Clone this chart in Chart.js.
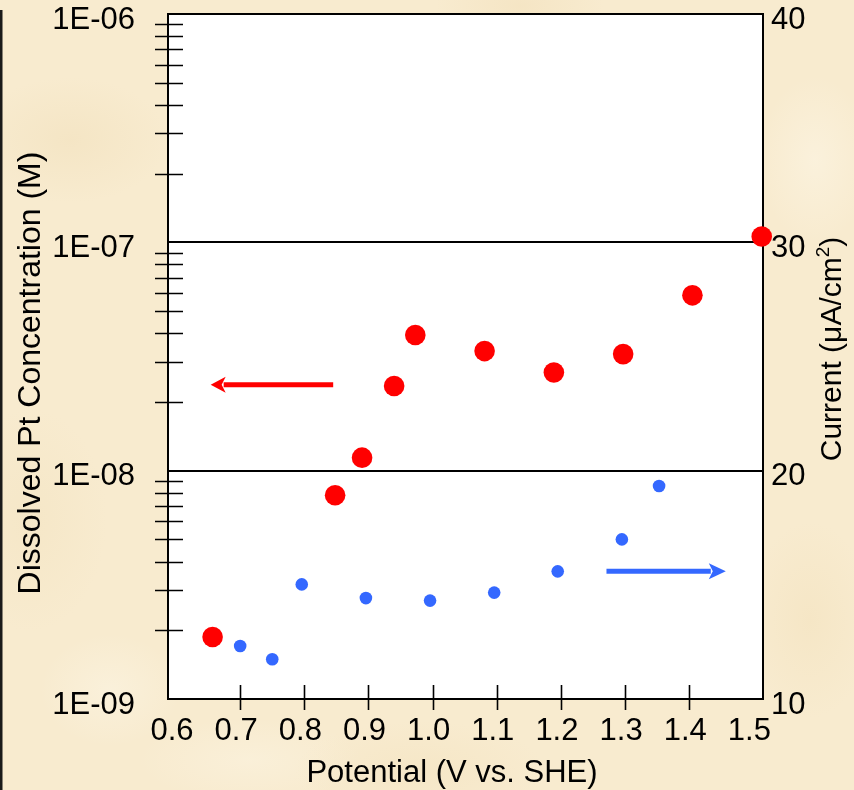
<!DOCTYPE html>
<html>
<head>
<meta charset="utf-8">
<script src="https://cdn.jsdelivr.net/npm/chart.js@4.4.1/dist/chart.umd.min.js"></script>
<style>
  html, body { margin: 0; padding: 0; }
  body {
    width: 854px;
    height: 790px;
    overflow: hidden;
    background-color: #f8ebcf;
    background-image:
      radial-gradient(ellipse 140px 90px at 70px 140px, rgba(240,222,184,0.45), rgba(240,222,184,0) 70%),
      radial-gradient(ellipse 110px 160px at 30px 520px, rgba(242,226,190,0.45), rgba(242,226,190,0) 70%),
      radial-gradient(ellipse 180px 70px at 420px 770px, rgba(242,224,186,0.4), rgba(242,224,186,0) 70%),
      radial-gradient(ellipse 90px 140px at 810px 620px, rgba(242,224,186,0.45), rgba(242,224,186,0) 70%),
      radial-gradient(ellipse 120px 60px at 520px 6px, rgba(240,220,180,0.4), rgba(240,220,180,0) 70%),
      radial-gradient(ellipse 80px 120px at 815px 160px, rgba(252,245,228,0.6), rgba(252,245,228,0) 70%),
      radial-gradient(ellipse 100px 80px at 110px 690px, rgba(252,246,230,0.5), rgba(252,246,230,0) 70%),
      radial-gradient(ellipse 160px 60px at 250px 760px, rgba(252,245,228,0.45), rgba(252,245,228,0) 70%);
  }
  #chart { display: block; }
</style>
</head>
<body>
<canvas id="chart" width="854" height="790"></canvas>
<script>
// dissolved Pt (left, log axis) vs potential
const potentialPt = [0.657, 0.848, 0.890, 0.940, 0.973, 1.081, 1.189, 1.297, 1.405, 1.513];
const dissolvedPt = [1.87e-9, 7.8e-9, 1.14e-8, 2.35e-8, 3.93e-8, 3.34e-8, 2.69e-8, 3.24e-8, 5.86e-8, 1.06e-7];

// current (right axis) vs potential
const potentialI = [0.700, 0.750, 0.796, 0.896, 0.996, 1.096, 1.195, 1.295, 1.353];
const currentI = [12.32, 11.74, 15.02, 14.42, 14.31, 14.66, 15.59, 16.99, 19.33];

const xTicks = [0.6, 0.7, 0.8, 0.9, 1.0, 1.1, 1.2, 1.3, 1.4, 1.5];
const xLabels = ['0.6', '0.7', '0.8', '0.9', '1.0', '1.1', '1.2', '1.3', '1.4', '1.5'];
const xMarks = [0.7, 0.8, 0.9, 1.0, 1.1, 1.2, 1.3, 1.4];

const concTicks = [1e-9, 1e-8, 1e-7, 1e-6];
const concLabels = ['1E-09', '1E-08', '1E-07', '1E-06'];

const currentTicks = [10, 20, 30, 40];
const currentLabels = ['10', '20', '30', '40'];
const currentGrid = [20, 30];

// arrows: [x from, x to, y]
const concArrow = [0.845, 0.654, 2.38e-8];
const currentArrow = [1.271, 1.457, 15.59];

const FONT = "'Liberation Sans', Arial, Helvetica, sans-serif";
const tickFont = { family: FONT, size: 31 };

// keep the plot box fixed: no extra room for half-labels at the ends
function noPad(s) {
  s.paddingTop = 0;
  s.paddingBottom = 0;
  s.paddingLeft = 0;
  s.paddingRight = 0;
}

function drawArrow(ctx, xs, ys, a, color, headLen, headHalf) {
  const x0 = xs.getPixelForValue(a[0]);
  const x1 = xs.getPixelForValue(a[1]);
  const y = ys.getPixelForValue(a[2]);
  const dir = Math.sign(x1 - x0);
  ctx.save();
  ctx.strokeStyle = color;
  ctx.fillStyle = color;
  ctx.lineWidth = 5;
  ctx.beginPath();
  ctx.moveTo(x0, y);
  ctx.lineTo(x1 - dir * (headLen - 2), y);
  ctx.stroke();
  ctx.beginPath();
  ctx.moveTo(x1, y);
  ctx.lineTo(x1 - dir * headLen, y - headHalf);
  ctx.lineTo(x1 - dir * (headLen - 4), y);
  ctx.lineTo(x1 - dir * headLen, y + headHalf);
  ctx.closePath();
  ctx.fill();
  ctx.restore();
}

const frame = {
  id: 'frame',
  beforeDraw(chart) {
    const { ctx, chartArea: a } = chart;
    ctx.save();
    ctx.fillStyle = '#fff';
    ctx.fillRect(a.left, a.top, a.right - a.left, a.bottom - a.top);
    // slide edge on the far left
    ctx.fillStyle = '#1a1a1a';
    ctx.fillRect(0, 10, 2.5, 780);
    ctx.restore();
  },
  beforeDatasetsDraw(chart) {
    const { ctx, chartArea: a, scales } = chart;
    ctx.save();
    ctx.strokeStyle = '#000';
    ctx.lineWidth = 2;
    ctx.strokeRect(a.left, a.top, a.right - a.left, a.bottom - a.top);

    ctx.beginPath();
    xMarks.forEach(v => {
      const px = Math.round(scales.x.getPixelForValue(v)) + 0.5;
      ctx.moveTo(px, a.bottom - 14);
      ctx.lineTo(px, a.bottom + 11);
    });
    // minor decade marks on the log axis
    for (let e = -9; e < -6; e++) {
      for (let k = 2; k <= 9; k++) {
        const py = Math.round(scales.y.getPixelForValue(k * Math.pow(10, e))) + 0.5;
        ctx.moveTo(a.left - 13, py);
        ctx.lineTo(a.left + 15, py);
      }
    }
    ctx.lineWidth = 1.6;
    ctx.stroke();
    ctx.restore();
  },
  afterDraw(chart) {
    const { ctx, scales } = chart;
    drawArrow(ctx, scales.x, scales.y, concArrow, '#ff0000', 15, 8);
    drawArrow(ctx, scales.x, scales.y2, currentArrow, '#3468ff', 17, 8);

    ctx.save();
    ctx.fillStyle = '#000';
    ctx.textBaseline = 'alphabetic';

    ctx.font = '31px ' + FONT;
    ctx.textAlign = 'center';
    ctx.fillText('Potential (V vs. SHE)', 452, 782);

    ctx.save();
    ctx.translate(40, 373);
    ctx.rotate(-Math.PI / 2);
    ctx.font = '32px ' + FONT;
    ctx.fillText('Dissolved Pt Concentration (M)', 0, 0);
    ctx.restore();

    // right title with a superscript 2
    ctx.save();
    ctx.translate(841, 349);
    ctx.rotate(-Math.PI / 2);
    const big = '30px ' + FONT, small = '19px ' + FONT;
    const p1 = 'Current (\u03bcA/cm', p2 = '2', p3 = ')';
    ctx.font = big;
    const w1 = ctx.measureText(p1).width, w3 = ctx.measureText(p3).width;
    ctx.font = small;
    const w2 = ctx.measureText(p2).width;
    let x = -(w1 + w2 + w3) / 2;
    ctx.textAlign = 'left';
    ctx.font = big;
    ctx.fillText(p1, x, 0);
    x += w1;
    ctx.font = small;
    ctx.fillText(p2, x, -12);
    x += w2;
    ctx.font = big;
    ctx.fillText(p3, x, 0);
    ctx.restore();

    ctx.restore();
  }
};

new Chart(document.getElementById('chart'), {
  type: 'scatter',
  data: {
    datasets: [
      {
        label: 'Dissolved Pt',
        data: potentialPt.map((x, i) => ({ x, y: dissolvedPt[i] })),
        yAxisID: 'y',
        backgroundColor: '#ff0000',
        pointRadius: 10.3,
        pointBorderWidth: 0,
        clip: false
      },
      {
        label: 'Current',
        data: potentialI.map((x, i) => ({ x, y: currentI[i] })),
        yAxisID: 'y2',
        backgroundColor: '#3468ff',
        pointRadius: 6.3,
        pointBorderWidth: 0,
        clip: false
      }
    ]
  },
  options: {
    responsive: false,
    animation: false,
    devicePixelRatio: 1,
    events: [],
    layout: { autoPadding: false, padding: { top: 14, left: 0, right: 0, bottom: 0 } },
    plugins: { legend: { display: false }, tooltip: { enabled: false } },
    scales: {
      x: {
        type: 'linear',
        position: 'bottom',
        min: 0.5875,
        max: 1.515,
        afterBuildTicks: s => { s.ticks = xTicks.map(v => ({ value: v })); },
        afterFit: s => { s.height = 91; noPad(s); },
        grid: { display: false, drawTicks: false },
        border: { display: false },
        ticks: {
          callback: (v, i) => xLabels[i],
          font: tickFont,
          color: '#000',
          padding: 14,
          labelOffset: -4,
          maxRotation: 0,
          autoSkip: false
        }
      },
      y: {
        type: 'logarithmic',
        position: 'left',
        min: 1e-9,
        max: 1e-6,
        afterBuildTicks: s => { s.ticks = concTicks.map(v => ({ value: v })); },
        afterFit: s => { s.width = 168; noPad(s); },
        grid: { display: false, drawTicks: false },
        border: { display: false },
        ticks: {
          callback: (v, i) => concLabels[i],
          font: tickFont,
          color: '#000',
          padding: 33,
          labelOffset: 6,
          autoSkip: false
        }
      },
      y2: {
        type: 'linear',
        position: 'right',
        min: 10,
        max: 40,
        afterBuildTicks: s => { s.ticks = currentTicks.map(v => ({ value: v })); },
        afterFit: s => { s.width = 91; noPad(s); },
        grid: {
          drawOnChartArea: true,
          drawTicks: false,
          lineWidth: 2,
          color: c => (c.tick && currentGrid.includes(c.tick.value)) ? '#000' : 'rgba(0,0,0,0)'
        },
        border: { display: false },
        ticks: {
          callback: (v, i) => currentLabels[i],
          font: tickFont,
          color: '#000',
          padding: 8,
          labelOffset: 6,
          autoSkip: false
        }
      }
    }
  },
  plugins: [frame]
});
</script>
</body>
</html>
